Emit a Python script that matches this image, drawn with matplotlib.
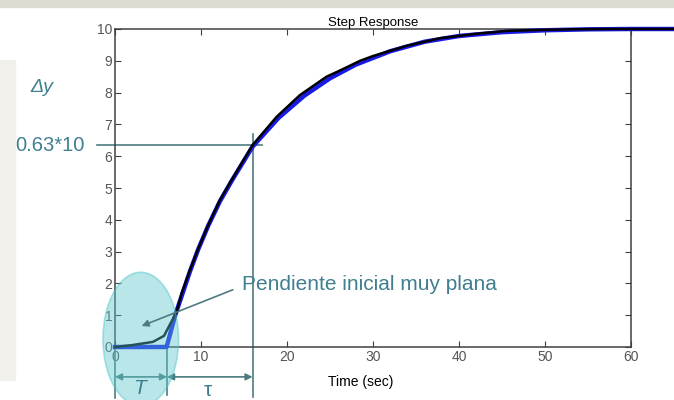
import matplotlib
matplotlib.use("Agg")
import matplotlib.pyplot as plt
from matplotlib.patches import Ellipse, Rectangle

plt.rcParams['font.family'] = ['Liberation Sans', 'DejaVu Sans']

t_real = [0, 2, 4.4, 5.7, 7.17, 7.75, 8.72, 9.69, 10.85, 12.2, 13.56, 16.0, 18.8,
          21.5, 24.6, 26.2, 28.5, 30.0, 33.9, 37.8, 41.7, 45.5, 49.4, 53, 57.2, 60, 65]
y_real = [0, 0.06, 0.16, 0.35, 1.11, 1.69, 2.42, 3.10, 3.84, 4.62, 5.25, 6.35, 7.24,
          7.92, 8.5, 8.7, 9.0, 9.15, 9.47, 9.71, 9.84, 9.94, 9.97, 9.99, 10.0, 10.0, 10.0]

# aproximación de primer orden con retardo (azul)
t_aprox = [0, 6.0, 7.0, 7.75, 8.72, 9.69, 10.85, 12.2, 13.56, 16, 19, 22, 25, 28,
           32, 36, 40, 45, 50, 55, 60, 65]
y_aprox = [0, 0, 1.0, 1.6, 2.38, 3.08, 3.82, 4.58, 5.22, 6.3, 7.2, 7.9, 8.45, 8.88,
           9.3, 9.6, 9.78, 9.9, 9.96, 9.99, 10, 10]

x_ticks = [0, 10, 20, 30, 40, 50, 60]
y_ticks = list(range(0, 11))

T_muerto = 6.05
t_63 = 16.0
y_63 = 6.35

col_anot = '#4d7b7e'
col_txt = '#3f7f8f'

fig = plt.figure(figsize=(6.74, 4.0), dpi=100)
fig.patches.append(Rectangle((0, 0.982), 1, 0.018, transform=fig.transFigure,
                             color='#dedcd2', zorder=0))
fig.patches.append(Rectangle((0, 0.05), 0.022, 0.8, transform=fig.transFigure,
                             color='#f1f0ea', zorder=0))
ax = fig.add_axes([0.1706, 0.1325, 0.7656, 0.795])

ax.plot(t_aprox, y_aprox, color='#1a1ae6', lw=3.2, clip_on=False, zorder=3)
ax.plot(t_real, y_real, color='black', lw=1.8, clip_on=False, zorder=4)

ax.set_xlim(0, 60)
ax.set_ylim(0, 10)
ax.set_xticks(x_ticks)
ax.set_yticks(y_ticks)
ax.tick_params(direction='in', length=4, width=0.8, top=True, right=True,
               labelsize=10, labelcolor='#555555', color='#404040', pad=2)
for s in ax.spines.values():
    s.set_color('#404040')
    s.set_linewidth(1.1)
ax.set_title('Step Response', fontsize=9.5, pad=2)
ax.text(28.6, -1.1, 'Time (sec)', fontsize=10, ha='center', va='center', clip_on=False)

# líneas de construcción
kw = dict(color=col_anot, lw=1.2, clip_on=False, zorder=2)
ax.plot([-2.1, 17.1], [y_63, y_63], **kw)
ax.plot([t_63, t_63], [6.7, -1.57], **kw)
ax.plot([0, 0], [0, -1.6], **kw)
ax.plot([T_muerto, T_muerto], [0, -1.5], **kw)

arr = dict(arrowstyle='<|-|>', color=col_anot, lw=1.2, mutation_scale=10,
           shrinkA=0, shrinkB=0)
ax.annotate('', xy=(0, -0.94), xytext=(T_muerto, -0.94), arrowprops=arr,
            annotation_clip=False)
ax.annotate('', xy=(T_muerto, -0.94), xytext=(t_63, -0.94), arrowprops=arr,
            annotation_clip=False)

ax.add_patch(Ellipse((3.0, 0.25), 8.8, 4.2, facecolor='#5ac8cc', alpha=0.42,
                     edgecolor='#3fbfc4', lw=1.2, clip_on=False, zorder=5))

ax.annotate('', xy=(3.1, 0.66), xytext=(13.7, 1.8),
            arrowprops=dict(arrowstyle='-|>', color=col_anot, lw=1.2,
                            mutation_scale=10, shrinkA=0, shrinkB=0),
            zorder=6)
ax.text(14.8, 1.95, 'Pendiente inicial muy plana', fontsize=15, color=col_txt,
        ha='left', va='center')

ax.text(2.9, -1.3, 'T', fontsize=15, style='italic', color=col_txt,
        ha='center', va='center', clip_on=False, zorder=6)
ax.text(10.8, -1.36, 'τ', fontsize=15, color=col_txt, ha='center', va='center',
        clip_on=False)

fig.text(42 / 674, 1 - 88 / 400, 'Δy', fontsize=14, style='italic', color=col_txt,
         ha='center', va='center')
fig.text(50 / 674, 1 - 145 / 400, '0.63*10', fontsize=14.5, color=col_txt,
         ha='center', va='center')

fig.savefig('out.png', dpi=100)
